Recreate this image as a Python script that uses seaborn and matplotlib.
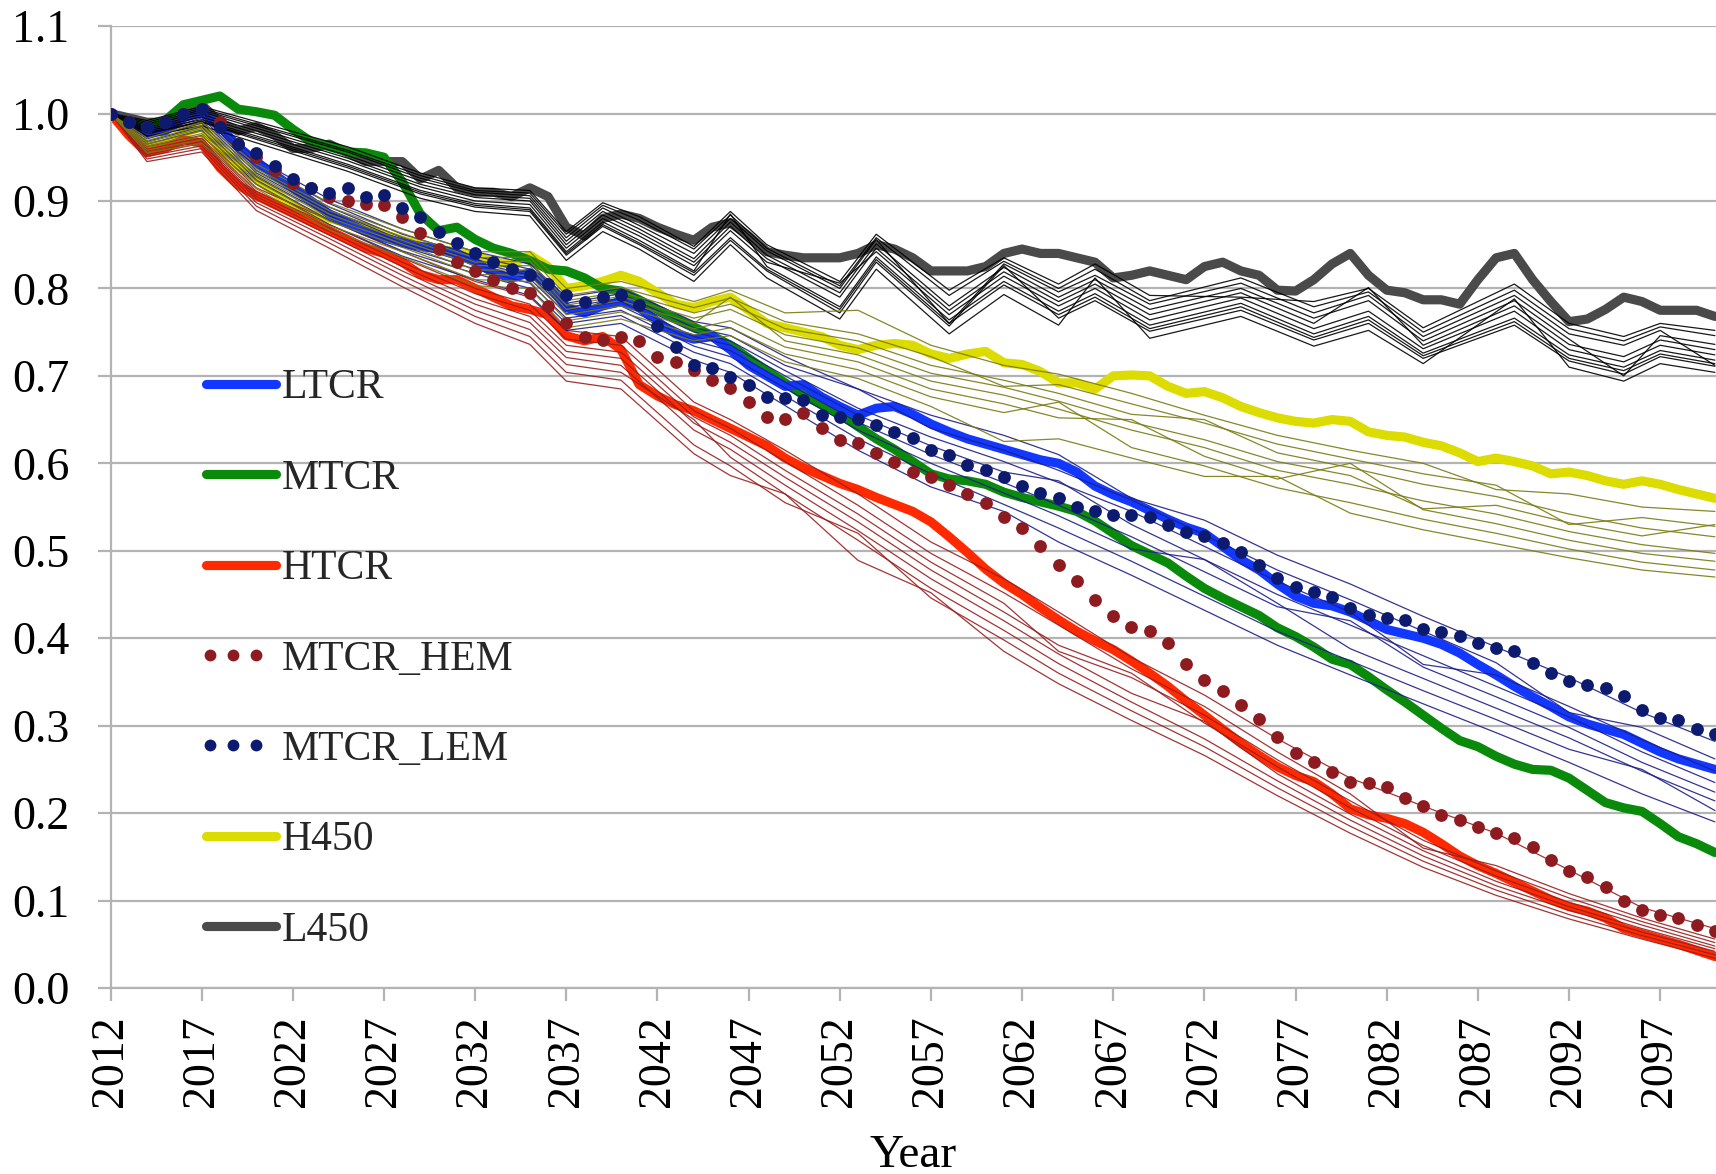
import matplotlib
matplotlib.use("Agg")
import matplotlib.pyplot as plt
import numpy as np
import pandas as pd
import seaborn as sns
from matplotlib.lines import Line2D
from matplotlib.legend_handler import HandlerLine2D

# ---------------------------------------------------------------- data
YEARS = list(range(2012, 2101))

L450 = [1.000, 0.995, 0.990, 0.990, 1.005, 1.010, 0.990, 0.980, 0.985, 0.975,
        0.960, 0.960, 0.965, 0.955, 0.945, 0.945, 0.945, 0.925, 0.935, 0.915,
        0.910, 0.910, 0.905, 0.915, 0.905, 0.870, 0.860, 0.880, 0.885, 0.880,
        0.870, 0.862, 0.855, 0.870, 0.875, 0.860, 0.842, 0.838, 0.835, 0.835,
        0.835, 0.840, 0.850, 0.845, 0.835, 0.820, 0.820, 0.820, 0.825, 0.840,
        0.845, 0.840, 0.840, 0.835, 0.830, 0.812, 0.815, 0.820, 0.815, 0.810,
        0.825, 0.830, 0.820, 0.815, 0.798, 0.797, 0.810, 0.828, 0.840, 0.815,
        0.798, 0.795, 0.787, 0.787, 0.782, 0.810, 0.835, 0.840, 0.810, 0.785,
        0.762, 0.765, 0.776, 0.790, 0.785, 0.775, 0.775, 0.775, 0.768]

H450 = [1.000, 0.978, 0.962, 0.965, 0.978, 0.985, 0.960, 0.940, 0.925, 0.910,
        0.895, 0.885, 0.880, 0.875, 0.870, 0.862, 0.855, 0.850, 0.845, 0.842,
        0.838, 0.830, 0.828, 0.838, 0.825, 0.800, 0.803, 0.808, 0.815, 0.808,
        0.795, 0.782, 0.778, 0.785, 0.790, 0.775, 0.760, 0.755, 0.750, 0.745,
        0.735, 0.730, 0.735, 0.737, 0.735, 0.725, 0.720, 0.725, 0.728, 0.715,
        0.713, 0.705, 0.692, 0.692, 0.685, 0.700, 0.701, 0.700, 0.688, 0.680,
        0.682, 0.675, 0.665, 0.658, 0.652, 0.648, 0.646, 0.650, 0.648, 0.636,
        0.632, 0.630, 0.624, 0.620, 0.612, 0.602, 0.606, 0.602, 0.597, 0.588,
        0.590, 0.586, 0.580, 0.576, 0.580, 0.576, 0.570, 0.565, 0.560]

LTCR = [1.000, 0.988, 0.978, 0.980, 0.995, 1.002, 0.985, 0.962, 0.945, 0.930,
        0.915, 0.900, 0.885, 0.875, 0.865, 0.858, 0.852, 0.848, 0.845, 0.840,
        0.830, 0.818, 0.812, 0.818, 0.805, 0.778, 0.772, 0.780, 0.785, 0.778,
        0.762, 0.748, 0.742, 0.745, 0.730, 0.712, 0.700, 0.688, 0.690, 0.676,
        0.665, 0.655, 0.663, 0.665, 0.656, 0.645, 0.636, 0.628, 0.622, 0.616,
        0.610, 0.604, 0.600, 0.590, 0.574, 0.564, 0.556, 0.546, 0.536, 0.527,
        0.520, 0.505, 0.490, 0.478, 0.462, 0.448, 0.440, 0.437, 0.430, 0.420,
        0.410, 0.405, 0.400, 0.393, 0.383, 0.370, 0.358, 0.345, 0.333, 0.322,
        0.310, 0.302, 0.296, 0.290, 0.280, 0.270, 0.262, 0.256, 0.250]

MTCR = [1.000, 0.988, 0.985, 0.992, 1.010, 1.015, 1.020, 1.005, 1.002, 0.998,
        0.982, 0.968, 0.962, 0.956, 0.955, 0.950, 0.922, 0.885, 0.866, 0.870,
        0.856, 0.846, 0.840, 0.832, 0.822, 0.820, 0.812, 0.800, 0.797, 0.787,
        0.776, 0.766, 0.756, 0.746, 0.735, 0.720, 0.706, 0.692, 0.678, 0.667,
        0.656, 0.642, 0.628, 0.616, 0.602, 0.588, 0.582, 0.580, 0.576, 0.567,
        0.561, 0.556, 0.551, 0.545, 0.534, 0.520, 0.506, 0.496, 0.486, 0.471,
        0.457, 0.446, 0.436, 0.426, 0.412, 0.402, 0.390, 0.376, 0.370, 0.356,
        0.341, 0.327, 0.312, 0.297, 0.283, 0.276, 0.265, 0.256, 0.250, 0.249,
        0.240, 0.226, 0.212, 0.206, 0.202, 0.188, 0.173, 0.165, 0.155]

HTCR = [1.000, 0.975, 0.955, 0.960, 0.970, 0.966, 0.938, 0.918, 0.906, 0.896,
        0.886, 0.876, 0.866, 0.856, 0.846, 0.840, 0.830, 0.816, 0.810, 0.810,
        0.800, 0.790, 0.780, 0.776, 0.770, 0.746, 0.740, 0.745, 0.730, 0.690,
        0.677, 0.667, 0.660, 0.650, 0.640, 0.630, 0.620, 0.606, 0.595, 0.586,
        0.577, 0.570, 0.561, 0.553, 0.545, 0.533, 0.516, 0.498, 0.479, 0.463,
        0.450, 0.435, 0.421, 0.408, 0.397, 0.387, 0.374, 0.360, 0.345, 0.328,
        0.312, 0.296, 0.280, 0.266, 0.253, 0.243, 0.236, 0.222, 0.205, 0.198,
        0.194, 0.188, 0.178, 0.165, 0.151, 0.140, 0.131, 0.121, 0.111, 0.101,
        0.093, 0.088, 0.080, 0.068, 0.062, 0.056, 0.050, 0.043, 0.036]

MTCR_HEM = [1.000, 0.990, 0.985, 0.990, 1.000, 1.005, 0.990, 0.965, 0.950, 0.935,
            0.920, 0.915, 0.905, 0.900, 0.897, 0.895, 0.882, 0.863, 0.845, 0.830,
            0.820, 0.810, 0.800, 0.795, 0.780, 0.760, 0.745, 0.741, 0.745, 0.740,
            0.722, 0.716, 0.707, 0.695, 0.686, 0.670, 0.653, 0.651, 0.657, 0.640,
            0.627, 0.623, 0.612, 0.602, 0.590, 0.584, 0.575, 0.565, 0.555, 0.539,
            0.526, 0.505, 0.484, 0.465, 0.444, 0.425, 0.413, 0.408, 0.394, 0.371,
            0.352, 0.340, 0.324, 0.308, 0.287, 0.269, 0.259, 0.247, 0.236, 0.234,
            0.230, 0.217, 0.208, 0.198, 0.192, 0.184, 0.177, 0.172, 0.161, 0.146,
            0.134, 0.127, 0.116, 0.100, 0.089, 0.083, 0.080, 0.072, 0.065]

MTCR_LEM = [1.000, 0.990, 0.985, 0.990, 1.000, 1.005, 0.985, 0.965, 0.955, 0.940,
            0.925, 0.915, 0.909, 0.915, 0.905, 0.907, 0.892, 0.882, 0.865, 0.852,
            0.840, 0.830, 0.822, 0.815, 0.805, 0.792, 0.785, 0.790, 0.792, 0.781,
            0.757, 0.733, 0.712, 0.709, 0.699, 0.690, 0.676, 0.675, 0.672, 0.655,
            0.653, 0.651, 0.644, 0.636, 0.629, 0.615, 0.610, 0.598, 0.592, 0.584,
            0.574, 0.566, 0.560, 0.550, 0.545, 0.541, 0.541, 0.539, 0.529, 0.522,
            0.517, 0.509, 0.499, 0.484, 0.469, 0.459, 0.453, 0.447, 0.435, 0.427,
            0.423, 0.421, 0.410, 0.407, 0.402, 0.394, 0.389, 0.385, 0.372, 0.360,
            0.351, 0.346, 0.343, 0.334, 0.318, 0.309, 0.306, 0.296, 0.290]

# individual model runs behind the scenario means
L450_RUN_YEARS = [2012, 2014, 2017, 2021, 2025, 2029, 2032, 2035, 2037, 2039,
                  2041, 2044, 2046, 2048, 2052, 2054, 2058, 2061, 2064, 2066,
                  2069, 2074, 2078, 2081, 2084, 2089, 2092, 2095, 2097, 2100]
L450_RUNS = [
    [1.0, 0.992, 1.008, 0.985, 0.962, 0.932, 0.915, 0.912, 0.865, 0.898, 0.882, 0.848, 0.888, 0.850, 0.808,
     0.862, 0.798, 0.835, 0.805, 0.828, 0.792, 0.790, 0.785, 0.800, 0.755, 0.805, 0.760, 0.745, 0.760, 0.752],
    [1.0, 0.988, 1.004, 0.980, 0.956, 0.926, 0.910, 0.906, 0.858, 0.892, 0.872, 0.840, 0.880, 0.843, 0.800,
     0.856, 0.760, 0.828, 0.796, 0.815, 0.782, 0.806, 0.772, 0.792, 0.745, 0.792, 0.748, 0.735, 0.752, 0.712],
    [1.0, 0.986, 1.002, 0.977, 0.952, 0.923, 0.907, 0.903, 0.854, 0.888, 0.868, 0.834, 0.876, 0.838, 0.795,
     0.851, 0.780, 0.824, 0.790, 0.810, 0.776, 0.800, 0.766, 0.786, 0.740, 0.786, 0.742, 0.700, 0.746, 0.736],
    [1.0, 0.984, 0.999, 0.974, 0.949, 0.919, 0.904, 0.900, 0.850, 0.884, 0.864, 0.830, 0.871, 0.834, 0.790,
     0.846, 0.775, 0.819, 0.785, 0.805, 0.770, 0.795, 0.760, 0.801, 0.735, 0.780, 0.736, 0.722, 0.741, 0.730],
    [1.0, 0.982, 0.996, 0.971, 0.946, 0.916, 0.900, 0.896, 0.846, 0.880, 0.860, 0.826, 0.866, 0.830, 0.806,
     0.842, 0.770, 0.814, 0.780, 0.800, 0.764, 0.789, 0.754, 0.774, 0.731, 0.774, 0.730, 0.716, 0.735, 0.724],
    [1.0, 0.980, 0.993, 0.968, 0.942, 0.912, 0.897, 0.892, 0.842, 0.876, 0.855, 0.820, 0.885, 0.825, 0.779,
     0.836, 0.764, 0.808, 0.774, 0.794, 0.758, 0.783, 0.748, 0.768, 0.726, 0.766, 0.724, 0.710, 0.729, 0.718],
    [1.0, 0.977, 0.990, 0.964, 0.938, 0.908, 0.893, 0.888, 0.838, 0.871, 0.850, 0.815, 0.855, 0.820, 0.772,
     0.830, 0.757, 0.826, 0.766, 0.786, 0.751, 0.775, 0.741, 0.760, 0.720, 0.758, 0.717, 0.702, 0.722, 0.711],
    [1.0, 0.974, 0.986, 0.960, 0.934, 0.903, 0.888, 0.883, 0.832, 0.865, 0.845, 0.808, 0.850, 0.812, 0.765,
     0.822, 0.748, 0.793, 0.758, 0.812, 0.743, 0.768, 0.734, 0.752, 0.714, 0.788, 0.710, 0.694, 0.714, 0.704],
    [1.0, 0.990, 1.006, 0.982, 0.958, 0.929, 0.912, 0.909, 0.862, 0.895, 0.878, 0.845, 0.884, 0.846, 0.803,
     0.858, 0.792, 0.831, 0.800, 0.822, 0.786, 0.812, 0.779, 0.796, 0.750, 0.798, 0.754, 0.740, 0.756, 0.746],
    [1.0, 0.978, 0.991, 0.966, 0.940, 0.910, 0.895, 0.890, 0.840, 0.873, 0.852, 0.818, 0.858, 0.822, 0.776,
     0.833, 0.760, 0.804, 0.770, 0.790, 0.754, 0.779, 0.744, 0.764, 0.723, 0.762, 0.720, 0.706, 0.725, 0.714],
]

RUN_YEARS = [2012, 2014, 2017, 2020, 2024, 2028, 2032, 2035, 2037, 2040, 2044, 2046, 2049,
             2053, 2057, 2061, 2064, 2068, 2072, 2076, 2080, 2084, 2088, 2092, 2096, 2100]
H450_RUNS = [
    [1.0, 0.972, 0.990, 0.942, 0.898, 0.868, 0.842, 0.842, 0.800, 0.808, 0.785, 0.798, 0.772,
     0.775, 0.735, 0.712, 0.702, 0.680, 0.655, 0.632, 0.615, 0.600, 0.570, 0.565, 0.550, 0.545],
    [1.0, 0.969, 0.986, 0.937, 0.893, 0.863, 0.835, 0.836, 0.792, 0.801, 0.778, 0.789, 0.762,
     0.748, 0.722, 0.688, 0.690, 0.668, 0.646, 0.622, 0.605, 0.588, 0.575, 0.530, 0.538, 0.528],
    [1.0, 0.967, 0.983, 0.934, 0.889, 0.859, 0.830, 0.831, 0.786, 0.796, 0.772, 0.782, 0.754,
     0.740, 0.712, 0.695, 0.680, 0.656, 0.650, 0.612, 0.595, 0.576, 0.562, 0.542, 0.526, 0.516],
    [1.0, 0.965, 0.980, 0.930, 0.885, 0.855, 0.826, 0.826, 0.781, 0.791, 0.766, 0.776, 0.747,
     0.732, 0.703, 0.687, 0.671, 0.647, 0.627, 0.602, 0.586, 0.548, 0.552, 0.532, 0.517, 0.530],
    [1.0, 0.963, 0.977, 0.927, 0.881, 0.851, 0.821, 0.821, 0.776, 0.786, 0.760, 0.790, 0.740,
     0.724, 0.694, 0.678, 0.662, 0.638, 0.618, 0.592, 0.576, 0.557, 0.542, 0.522, 0.507, 0.497],
    [1.0, 0.961, 0.974, 0.923, 0.877, 0.847, 0.816, 0.815, 0.770, 0.780, 0.754, 0.763, 0.733,
     0.716, 0.685, 0.668, 0.652, 0.650, 0.608, 0.582, 0.600, 0.547, 0.531, 0.512, 0.497, 0.488],
    [1.0, 0.958, 0.970, 0.919, 0.872, 0.842, 0.810, 0.808, 0.763, 0.773, 0.747, 0.755, 0.725,
     0.707, 0.676, 0.658, 0.670, 0.618, 0.597, 0.572, 0.555, 0.536, 0.520, 0.502, 0.487, 0.478],
    [1.0, 0.955, 0.966, 0.914, 0.867, 0.836, 0.803, 0.800, 0.755, 0.765, 0.740, 0.746, 0.716,
     0.697, 0.665, 0.625, 0.628, 0.606, 0.585, 0.585, 0.543, 0.524, 0.508, 0.492, 0.478, 0.470],
]
LTCR_RUNS = [
    [1.0, 0.982, 1.005, 0.948, 0.902, 0.868, 0.842, 0.828, 0.790, 0.800, 0.762, 0.755, 0.722,
     0.685, 0.655, 0.632, 0.610, 0.560, 0.535, 0.495, 0.462, 0.425, 0.390, 0.355, 0.315, 0.282],
    [1.0, 0.979, 1.001, 0.942, 0.897, 0.862, 0.837, 0.822, 0.783, 0.794, 0.755, 0.746, 0.712,
     0.685, 0.640, 0.615, 0.592, 0.558, 0.518, 0.478, 0.444, 0.408, 0.372, 0.315, 0.298, 0.262],
    [1.0, 0.977, 0.998, 0.938, 0.893, 0.858, 0.833, 0.818, 0.778, 0.789, 0.750, 0.740, 0.706,
     0.663, 0.630, 0.602, 0.578, 0.545, 0.505, 0.465, 0.430, 0.370, 0.358, 0.322, 0.284, 0.248],
    [1.0, 0.975, 0.995, 0.935, 0.890, 0.855, 0.830, 0.815, 0.775, 0.785, 0.745, 0.735, 0.700,
     0.655, 0.620, 0.590, 0.580, 0.530, 0.490, 0.450, 0.415, 0.380, 0.345, 0.310, 0.270, 0.235],
    [1.0, 0.973, 0.992, 0.932, 0.887, 0.852, 0.827, 0.811, 0.771, 0.780, 0.740, 0.729, 0.693,
     0.647, 0.610, 0.578, 0.552, 0.516, 0.476, 0.436, 0.420, 0.367, 0.333, 0.298, 0.258, 0.224],
    [1.0, 0.971, 0.989, 0.928, 0.883, 0.848, 0.822, 0.806, 0.766, 0.775, 0.734, 0.722, 0.686,
     0.638, 0.600, 0.566, 0.540, 0.502, 0.490, 0.440, 0.388, 0.354, 0.320, 0.286, 0.248, 0.214],
    [1.0, 0.968, 0.985, 0.924, 0.878, 0.843, 0.817, 0.800, 0.760, 0.769, 0.727, 0.714, 0.677,
     0.628, 0.588, 0.553, 0.526, 0.488, 0.448, 0.408, 0.374, 0.340, 0.307, 0.273, 0.250, 0.203],
    [1.0, 0.965, 0.981, 0.919, 0.873, 0.837, 0.810, 0.792, 0.752, 0.760, 0.718, 0.704, 0.666,
     0.615, 0.573, 0.545, 0.510, 0.472, 0.432, 0.392, 0.358, 0.325, 0.292, 0.258, 0.222, 0.190],
]
HTCR_RUNS = [
    [1.0, 0.962, 0.975, 0.915, 0.878, 0.842, 0.808, 0.790, 0.752, 0.745, 0.670, 0.650, 0.615,
     0.565, 0.510, 0.468, 0.430, 0.378, 0.335, 0.285, 0.240, 0.208, 0.177, 0.135, 0.092, 0.068],
    [1.0, 0.959, 0.972, 0.911, 0.873, 0.835, 0.800, 0.782, 0.742, 0.735, 0.660, 0.640, 0.602,
     0.552, 0.497, 0.452, 0.415, 0.365, 0.322, 0.270, 0.222, 0.160, 0.140, 0.108, 0.080, 0.056],
    [1.0, 0.957, 0.970, 0.908, 0.869, 0.830, 0.794, 0.775, 0.735, 0.727, 0.653, 0.632, 0.592,
     0.542, 0.487, 0.440, 0.385, 0.355, 0.312, 0.261, 0.214, 0.169, 0.134, 0.103, 0.076, 0.052],
    [1.0, 0.955, 0.968, 0.905, 0.865, 0.825, 0.788, 0.768, 0.728, 0.720, 0.646, 0.624, 0.584,
     0.533, 0.478, 0.430, 0.392, 0.360, 0.303, 0.253, 0.206, 0.163, 0.128, 0.098, 0.072, 0.048],
    [1.0, 0.953, 0.966, 0.902, 0.861, 0.820, 0.782, 0.761, 0.721, 0.712, 0.638, 0.616, 0.575,
     0.523, 0.468, 0.420, 0.382, 0.337, 0.305, 0.245, 0.199, 0.157, 0.122, 0.093, 0.068, 0.045],
    [1.0, 0.951, 0.963, 0.898, 0.857, 0.815, 0.775, 0.753, 0.713, 0.704, 0.650, 0.607, 0.565,
     0.512, 0.457, 0.409, 0.371, 0.327, 0.285, 0.237, 0.192, 0.151, 0.117, 0.089, 0.064, 0.042],
    [1.0, 0.948, 0.960, 0.894, 0.852, 0.809, 0.768, 0.745, 0.704, 0.695, 0.621, 0.597, 0.555,
     0.520, 0.446, 0.398, 0.360, 0.317, 0.276, 0.229, 0.185, 0.145, 0.112, 0.084, 0.060, 0.038],
    [1.0, 0.945, 0.956, 0.889, 0.846, 0.802, 0.760, 0.736, 0.694, 0.685, 0.611, 0.586, 0.565,
     0.489, 0.452, 0.385, 0.348, 0.306, 0.266, 0.220, 0.177, 0.138, 0.106, 0.079, 0.056, 0.034],
]

LABELS = ["LTCR", "MTCR", "HTCR", "MTCR_HEM", "MTCR_LEM", "H450", "L450"]
X_TICKS = list(range(2012, 2101, 5))
Y_TICKS = [round(0.1 * i, 1) for i in range(12)]

# ---------------------------------------------------------------- style
C_LTCR, C_MTCR, C_HTCR = "#1238ff", "#0a8a0a", "#ff2a00"
C_HEM, C_LEM = "#8e1b1f", "#0c1a70"
C_H450, C_L450 = "#dcdc00", "#4a4a4a"
C_RUN = {"L450": "#000000", "H450": "#7a7a12", "LTCR": "#1e1e8a", "HTCR": "#9a1e1e"}
GRID = "#b3b3b3"
THICK = 6.6

sns.set_theme(style="white")
plt.rcParams["font.family"] = ["Liberation Serif", "DejaVu Serif"]

fig = plt.figure(figsize=(17.16, 11.74), dpi=100)
ax = fig.add_axes([0.0644, 0.1584, 0.9356, 0.8194])


def runs_frame(years, runs):
    rows = [(i, y, v) for i, run in enumerate(runs) for y, v in zip(years, run)]
    return pd.DataFrame(rows, columns=["run", "year", "value"])


# scenario means (thick)
thick_kw = dict(lw=THICK, solid_capstyle="round", solid_joinstyle="round", zorder=2)
for series, color in [(L450, C_L450), (H450, C_H450), (MTCR, C_MTCR),
                      (LTCR, C_LTCR), (HTCR, C_HTCR)]:
    sns.lineplot(x=YEARS, y=series, color=color, ax=ax, **thick_kw)

# individual runs (thin)
for runs, years, key in [(HTCR_RUNS, RUN_YEARS, "HTCR"), (LTCR_RUNS, RUN_YEARS, "LTCR"),
                         (L450_RUNS, L450_RUN_YEARS, "L450"), (H450_RUNS, RUN_YEARS, "H450")]:
    sns.lineplot(data=runs_frame(years, runs), x="year", y="value", units="run",
                 estimator=None, color=C_RUN[key], lw=0.9, alpha=0.9, ax=ax, zorder=3)

# emission-variant runs (dotted, one dot per year)
for series, color in [(MTCR_HEM, C_HEM), (MTCR_LEM, C_LEM)]:
    sns.scatterplot(x=YEARS, y=series, color=color, s=85, linewidth=0, ax=ax, zorder=4)

# ---------------------------------------------------------------- axes
ax.set_xlim(2012, 2100.06)
ax.set_ylim(0, 1.1)
ax.set_xticks(X_TICKS)
ax.set_xticklabels([str(y) for y in X_TICKS], rotation=90)
ax.set_yticks(Y_TICKS)
ax.set_yticklabels([f"{v:.1f}" for v in Y_TICKS])
ax.yaxis.grid(True, color=GRID, lw=1.6, zorder=0)
ax.xaxis.grid(False)
ax.set_axisbelow(True)
for side in ["top", "right"]:
    ax.spines[side].set_visible(False)
for side in ["left", "bottom"]:
    ax.spines[side].set_color(GRID)
    ax.spines[side].set_linewidth(1.6)
ax.tick_params(axis="y", which="major", left=True, length=9.5, width=1.6, color=GRID,
               pad=20, labelsize=33, labelcolor="black")
ax.tick_params(axis="x", which="major", bottom=True, length=9.5, width=1.6, color=GRID,
               pad=10, labelsize=33, labelcolor="black")
ax.set_xlabel("Year", fontsize=34, labelpad=20, color="black")
ax.set_ylabel("")


# ---------------------------------------------------------------- legend
class DotsHandler(HandlerLine2D):
    """Three dots packed towards the left of the handle box."""

    def get_xdata(self, legend, xdescent, ydescent, width, height, fontsize):
        xs = np.linspace(-xdescent + 0.4 * fontsize, width - 0.8 * fontsize, 3)
        return xs, xs


dot_hem = Line2D([], [], color=C_HEM, ls="none", marker="o", ms=8.5, mew=0)
dot_lem = Line2D([], [], color=C_LEM, ls="none", marker="o", ms=8.5, mew=0)
handles = [
    Line2D([], [], color=C_LTCR, lw=THICK, solid_capstyle="round"),
    Line2D([], [], color=C_MTCR, lw=THICK, solid_capstyle="round"),
    Line2D([], [], color=C_HTCR, lw=THICK, solid_capstyle="round"),
    dot_hem,
    dot_lem,
    Line2D([], [], color=C_H450, lw=THICK, solid_capstyle="round"),
    Line2D([], [], color=C_L450, lw=THICK, solid_capstyle="round"),
]
ax.legend(handles, LABELS, loc="upper left", bbox_to_anchor=(193 / 1716, 1 - 369 / 1174),
          bbox_transform=fig.transFigure, frameon=False, fontsize=30, numpoints=3,
          handlelength=2.3, handletextpad=-0.18, labelspacing=1.245,
          borderpad=0, borderaxespad=0,
          handler_map={dot_hem: DotsHandler(), dot_lem: DotsHandler()})

fig.savefig("out.png", dpi=100)
